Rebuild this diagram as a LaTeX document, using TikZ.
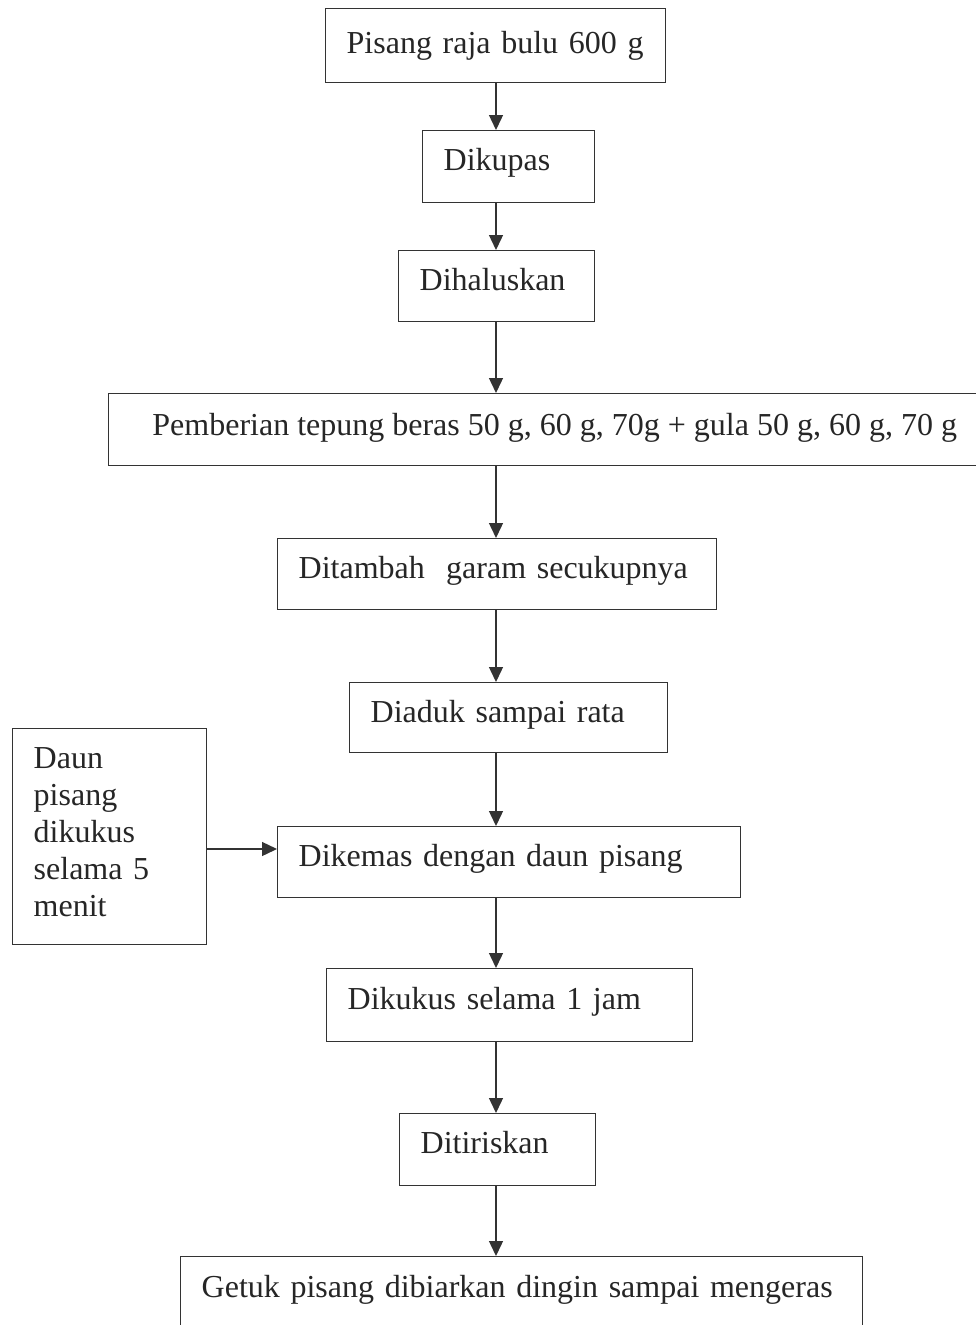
\documentclass[tikz,border=0pt]{standalone}
\usepackage{fontspec}
\setmainfont{Liberation Serif}
\usetikzlibrary{arrows.meta}
\begin{document}
\begin{tikzpicture}[x=1pt,y=-1pt,
  box/.style={draw=black!80, line width=1.4pt, anchor=north west, inner xsep=21pt, inner ysep=0pt,
    align=left, font=\fontsize{32}{37}\selectfont, text=black!85},
  bl/.style={text height=#1, text depth=0pt},
  arr/.style={draw=black!80, line width=1.4pt, -{Triangle[length=15pt,width=14pt]}}]
\useasboundingbox[fill=white] (0,0) rectangle (976,1325);
\node[box, bl=16pt, text width=298pt, minimum height=74pt] (pisang) at (325,8) {Pisang raja bulu 600 g};
\node[box, bl=8pt, text width=130pt, minimum height=72pt] (dikupas) at (422,130) {Dikupas};
\node[box, bl=8pt, text width=154pt, minimum height=71pt] (dihaluskan) at (398,250) {Dihaluskan};
\node[box, bl=12pt, minimum width=892pt, minimum height=72pt] (pemberian) at (108,393) {Pemberian tepung beras 50 g, 60 g, 70g + gula 50 g, 60 g, 70 g};
\node[box, bl=8pt, text width=397pt, minimum height=71pt] (ditambah) at (277,538) {Ditambah\ \ garam secukupnya};
\node[box, bl=10pt, text width=276pt, minimum height=70pt] (diaduk) at (349,682) {Diaduk sampai rata};
\node[box, bl=8pt, text width=421pt, minimum height=71pt] (dikemas) at (277,826) {Dikemas dengan daun pisang};
\node[box, text height=22pt, text depth=158pt, text width=152pt, minimum height=216pt] (daun) at (12,728) {Daun\\pisang\\dikukus\\selama 5\\menit};
\node[box, bl=8pt, text width=324pt, minimum height=73pt] (dikukus) at (326,968) {Dikukus selama 1 jam};
\node[box, bl=8pt, text width=154pt, minimum height=72pt] (ditiriskan) at (399,1113) {Ditiriskan};
\node[box, text height=0pt, text depth=3pt, text width=640pt, minimum height=84pt] (getuk) at (180,1256) {Getuk pisang dibiarkan dingin sampai mengeras};
\coordinate (ax) at (496,0);
\coordinate (ay) at (0,849);
\draw[arr] (pisang.south -| ax) -- (dikupas.north -| ax);
\draw[arr] (dikupas.south -| ax) -- (dihaluskan.north -| ax);
\draw[arr] (dihaluskan.south -| ax) -- (pemberian.north -| ax);
\draw[arr] (pemberian.south -| ax) -- (ditambah.north -| ax);
\draw[arr] (ditambah.south -| ax) -- (diaduk.north -| ax);
\draw[arr] (diaduk.south -| ax) -- (dikemas.north -| ax);
\draw[arr] (dikemas.south -| ax) -- (dikukus.north -| ax);
\draw[arr] (dikukus.south -| ax) -- (ditiriskan.north -| ax);
\draw[arr] (ditiriskan.south -| ax) -- (getuk.north -| ax);
\draw[arr] (daun.east |- ay) -- (dikemas.west |- ay);
\end{tikzpicture}
\end{document}
